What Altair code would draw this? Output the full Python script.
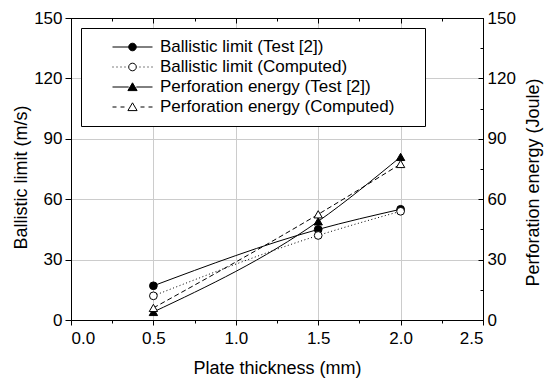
import altair as alt
import pandas as pd

# ---- data ----
thickness = [0.5, 1.5, 2.0]
ballistic_test = [17.0, 45.0, 55.0]
ballistic_comp = [12.0, 42.0, 54.0]
energy_test = [4.0, 49.0, 81.0]
energy_comp = [6.0, 52.5, 77.5]

series_names = [
    "Ballistic limit (Test [2])",
    "Ballistic limit (Computed)",
    "Perforation energy (Test [2])",
    "Perforation energy (Computed)",
]

x_tick_values = [0.0, 0.25, 0.5, 0.75, 1.0, 1.25, 1.5, 1.75, 2.0, 2.25, 2.5]
y_tick_values = [0, 15, 30, 45, 60, 75, 90, 105, 120, 135, 150]

FONT = "Liberation Sans"

def frame(ys, name):
    return pd.DataFrame({"thickness": thickness, "value": ys, "series": name})

X_MINOR = "abs(datum.value*2 - round(datum.value*2)) > 0.001"
Y_MINOR = "datum.value % 30 != 0"

x_enc = alt.X(
    "thickness:Q",
    scale=alt.Scale(domain=[0, 2.5], nice=False, zero=False),
    axis=alt.Axis(
        values=x_tick_values,
        labelExpr=f"({X_MINOR}) ? '' : format(datum.value, '.1f')",
        tickSize={"condition": {"test": X_MINOR, "value": 3}, "value": 5},
        gridOpacity={"condition": {"test": f"({X_MINOR}) || datum.value == 0 || datum.value == 2.5", "value": 0}, "value": 1},
        grid=True,
        title="Plate thickness (mm)",
        labelPadding=5,
        titlePadding=13,
    ),
)

def y_left():
    return alt.Y(
        "value:Q",
        scale=alt.Scale(domain=[0, 150], nice=False),
        axis=alt.Axis(
            values=y_tick_values,
            labelExpr=f"({Y_MINOR}) ? '' : datum.value",
            tickSize={"condition": {"test": Y_MINOR, "value": 3}, "value": 6},
            gridOpacity={"condition": {"test": f"({Y_MINOR}) || datum.value == 0 || datum.value == 150", "value": 0}, "value": 1},
            grid=True,
            title="Ballistic limit (m/s)",
            labelPadding=3,
            titleX=-50,
            titleY=159,
            titleAngle=270,
            titleAlign="center",
            titleBaseline="middle",
        ),
    )

def y_right():
    return alt.Y(
        "value:Q",
        scale=alt.Scale(domain=[0, 150], nice=False),
        axis=alt.Axis(
            orient="right",
            values=y_tick_values,
            labelExpr=f"({Y_MINOR}) ? '' : datum.value",
            tickSize={"condition": {"test": Y_MINOR, "expr": "-3"}, "expr": "-5"},
            grid=False,
            title="Perforation energy (Joule)",
            labelPadding=9,
            titleX=50,
            titleY=164,
            titleAngle=270,
            titleAlign="center",
            titleBaseline="middle",
        ),
    )

x_top = alt.X(
    "thickness:Q",
    scale=alt.Scale(domain=[0, 2.5], nice=False, zero=False),
    axis=alt.Axis(
        orient="top",
        values=x_tick_values,
        labels=False,
        tickSize={"condition": {"test": X_MINOR, "expr": "-3"}, "expr": "-5"},
        grid=False,
        title=None,
    ),
)

def series_layers(df, xe, ye, dash, shape, fill, size):
    line_kwargs = dict(color="black", strokeWidth=1, interpolate="monotone")
    if dash:
        line_kwargs["strokeDash"] = dash
    line = alt.Chart(df).mark_line(**line_kwargs).encode(x=xe, y=ye)
    pts = alt.Chart(df).mark_point(
        shape=shape, filled=True, fill=fill, stroke="black", strokeWidth=1, size=size, opacity=1
    ).encode(x=xe, y=ye)
    return [line, pts]

df_bt = frame(ballistic_test, series_names[0])
df_bc = frame(ballistic_comp, series_names[1])
df_et = frame(energy_test, series_names[2])
df_ec = frame(energy_comp, series_names[3])

# legend symbols: line + marker drawn as custom paths (unit = half symbol width)
CIRC = "M0.19,0A0.19,0.19,0,1,1,-0.19,0A0.19,0.19,0,1,1,0.19,0Z"
TRI = "M0,-0.21L0.23,0.18L-0.23,0.18Z"
SOLID = "M-1,0L-0.19,0M0.19,0L1,0"
DOTS = "M-1,0L-0.95,0M-0.8,0L-0.75,0M-0.6,0L-0.55,0M-0.4,0L-0.35,0M0.35,0L0.4,0M0.55,0L0.6,0M0.75,0L0.8,0M0.95,0L1,0"
DASH = "M-1,0L-0.8,0M-0.6,0L-0.4,0M0.4,0L0.6,0M0.8,0L1,0"
legend_paths = [SOLID + CIRC, DOTS + CIRC, SOLID + TRI, DASH + TRI]
legend_fills = ["black", "white", "black", "white"]
legend_strokes = ["black", "black", "black", "black"]

leg = alt.Legend(
    title=" ",
    titleOrient="right",
    titlePadding=22,
    titleFontSize=10,
    orient="none",
    legendX=10,
    legendY=10,
    padding=9,
    strokeColor="black",
    fillColor="white",
    symbolSize=1600,
    symbolStrokeWidth=1,
    symbolStrokeColor="black",
    labelFont=FONT,
    labelFontSize=17,
    labelColor="black",
    labelOffset=7,
    labelLimit=400,
    clipHeight=20,
    rowPadding=0,
    symbolOffset=22,
)

legend_df = pd.concat([df_bt, df_bc, df_et, df_ec])
legend_layer = alt.Chart(legend_df).transform_filter("false").mark_point(
    filled=True, stroke="black", strokeWidth=1, size=1600, opacity=1
).encode(
    x=alt.X("thickness:Q", scale=alt.Scale(domain=[0, 2.5], nice=False, zero=False)),
    y=alt.Y("value:Q", scale=alt.Scale(domain=[0, 150], nice=False)),
    shape=alt.Shape("series:N", scale=alt.Scale(domain=series_names, range=legend_paths), legend=leg),
    fill=alt.Fill("series:N", scale=alt.Scale(domain=series_names, range=legend_fills), legend=leg),
    stroke=alt.Stroke("series:N", scale=alt.Scale(domain=series_names, range=legend_strokes), legend=leg),
)

left = alt.layer(
    *series_layers(df_bt, x_enc, y_left(), None, "circle", "black", 60),
    *series_layers(df_bc, x_enc, y_left(), [1, 2.5], "circle", "white", 60),
    legend_layer,
)
right = alt.layer(
    *series_layers(df_et, x_top, y_right(), None, "triangle-up", "black", 70),
    *series_layers(df_ec, x_top, y_right(), [5, 3], "triangle-up", "white", 70),
)

chart = alt.layer(left, right).resolve_scale(y="independent").resolve_axis(x="independent", y="independent").properties(
    width=412,
    height=302,
    autosize=alt.AutoSizeParams(type="none"),
    padding={"left": 71, "top": 18, "right": 61, "bottom": 60},
).configure_view(
    stroke="black", strokeWidth=1
).configure_axis(
    labelFont=FONT,
    labelFontSize=17,
    labelColor="black",
    titleFont=FONT,
    titleFontSize=18,
    titleFontWeight="normal",
    titleColor="black",
    domainColor="black",
    tickColor="black",
    gridColor="#cccccc",
    gridWidth=1,
)

chart.save("out.html", embed_options={"renderer": "svg", "actions": False})
